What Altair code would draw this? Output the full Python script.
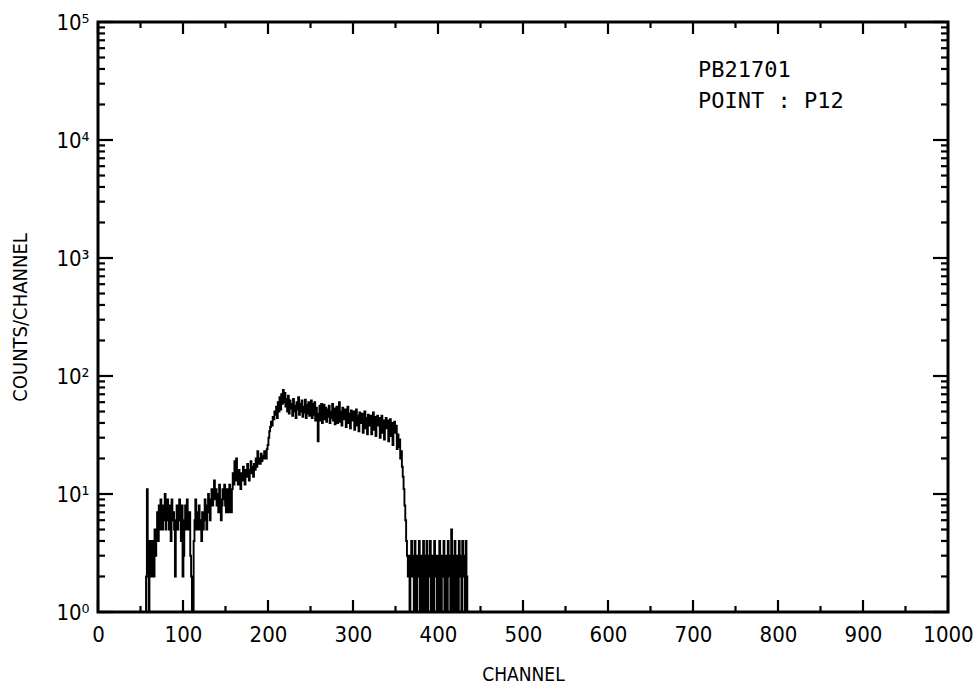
import altair as alt
import pandas as pd

# Pulse-height spectrum, counts per channel starting at channel 50
first_channel = 50
counts = [
    1, 1, 1, 1, 1, 1, 1, 2, 11, 4,
    1, 2, 4, 3, 2, 4, 2, 5, 3, 5,
    7, 4, 8, 5, 9, 6, 5, 8, 6, 10,
    5, 7, 9, 6, 5, 8, 4, 9, 6, 7,
    5, 2, 6, 8, 5, 7, 9, 6, 4, 8,
    2, 3, 6, 8, 5, 9, 6, 5, 7, 3,
    2, 1, 1, 4, 6, 9, 5, 7, 5, 8,
    5, 6, 4, 7, 5, 6, 9, 6, 5, 8,
    10, 7, 6, 9, 11, 8, 10, 13, 9, 11,
    8, 10, 7, 12, 9, 6, 8, 11, 9, 12,
    8, 7, 11, 9, 7, 12, 8, 7, 11, 15,
    12, 19, 13, 20, 14, 12, 16, 13, 11, 15,
    13, 17, 14, 12, 16, 14, 18, 15, 13, 16,
    19, 15, 17, 14, 18, 16, 20, 17, 23, 18,
    20, 18, 22, 19, 21, 20, 23, 21, 20, 24,
    26, 30, 34, 37, 41, 38, 45, 43, 50, 47,
    55, 44, 60, 50, 66, 52, 70, 58, 76, 60,
    72, 55, 64, 50, 68, 48, 62, 53, 58, 46,
    64, 50, 56, 44, 60, 52, 66, 47, 58, 50,
    62, 45, 55, 49, 63, 44, 57, 48, 60, 46,
    55, 62, 44, 58, 47, 60, 42, 54, 46, 28,
    48, 56, 42, 58, 40, 52, 57, 43, 54, 41,
    52, 45, 56, 40, 50, 44, 58, 42, 53, 39,
    49, 55, 40, 52, 60, 41, 50, 38, 54, 43,
    47, 52, 37, 49, 55, 40, 48, 36, 51, 42,
    45, 50, 35, 47, 52, 38, 46, 34, 49, 40,
    43, 48, 33, 45, 50, 36, 44, 32, 47, 38,
    41, 46, 32, 43, 49, 35, 45, 31, 42, 46,
    38, 44, 30, 41, 46, 33, 42, 29, 40, 44,
    36, 42, 28, 39, 43, 31, 40, 26, 37, 41,
    33, 38, 24, 32, 25, 29, 20, 23, 17, 14,
    11, 8, 6, 4, 3, 2, 3, 1, 2, 4,
    2, 3, 1, 4, 2, 1, 3, 2, 4, 1,
    3, 2, 1, 4, 3, 1, 2, 4, 1, 3,
    2, 4, 1, 3, 2, 1, 4, 2, 3, 1,
    3, 1, 4, 2, 1, 3, 2, 4, 1, 2,
    3, 1, 4, 2, 3, 1, 5, 2, 1, 3,
    4, 1, 3, 2, 1, 4, 2, 3, 1, 4,
    2, 3, 1, 4, 2, 1, 1, 1, 1, 1,
]
channels = list(range(first_channel, first_channel + len(counts)))

# Axis tick positions
x_major = [0, 100, 200, 300, 400, 500, 600, 700, 800, 900, 1000]
x_minor = [50, 150, 250, 350, 450, 550, 650, 750, 850, 950]
y_major = [1, 10, 100, 1000, 10000, 100000]
y_minor = [m * d for d in [1, 10, 100, 1000, 10000] for m in range(2, 10)]

sample_id = "PB21701"
point_label = "POINT : P12"

W, H = 850, 590
FONT = "Liberation Sans Narrow, DejaVu Sans Condensed, Liberation Sans"

xscale = alt.Scale(domain=[0, 1000], nice=False, zero=False)
yscale = alt.Scale(type="log", domain=[1, 100000], nice=False)

xaxis = alt.Axis(values=x_major, format="d", ticks=False, domain=False,
                 grid=False, labelFlush=False, labelFont=FONT,
                 labelFontSize=22, labelColor="black", labelPadding=12,
                 title="CHANNEL", titleFont=FONT, titleFontSize=19,
                 titleFontWeight="normal", titleColor="black", titlePadding=20)
yaxis = alt.Axis(values=y_major, ticks=False, domain=False, grid=False,
                 labelFlush=False, labelOverlap=False,
                 labelExpr="'10' + ['⁰','¹','²','³','⁴','⁵'][round(log(datum.value)/LN10)]",
                 labelFont=FONT, labelFontSize=22, labelColor="black",
                 labelPadding=9,
                 title="COUNTS/CHANNEL", titleFont=FONT, titleFontSize=20,
                 titleFontWeight="normal", titleColor="black", titlePadding=25)

spectrum = pd.DataFrame({"channel": channels, "counts": counts})

line = alt.Chart(spectrum).mark_line(
    interpolate="step", color="black", strokeWidth=1.9
).encode(
    x=alt.X("channel:Q", scale=xscale, axis=xaxis),
    y=alt.Y("counts:Q", scale=yscale, axis=yaxis),
)

def xticks(values, length):
    df = pd.DataFrame({"v": values})
    base = alt.Chart(df).mark_rule(color="black", strokeWidth=2.2)
    enc = alt.X("v:Q", scale=xscale, axis=xaxis)
    bottom = base.encode(x=enc, y=alt.value(H), y2=alt.value(H - length))
    top = base.encode(x=enc, y=alt.value(0), y2=alt.value(length))
    return bottom + top

def yticks(values, length):
    df = pd.DataFrame({"v": values})
    base = alt.Chart(df).mark_rule(color="black", strokeWidth=2.2)
    enc = alt.Y("v:Q", scale=yscale, axis=yaxis)
    left = base.encode(y=enc, x=alt.value(0), x2=alt.value(length))
    right = base.encode(y=enc, x=alt.value(W), x2=alt.value(W - length))
    return left + right

def note(text, baseline_y):
    return alt.Chart(pd.DataFrame({"t": [text]})).mark_text(
        align="left", baseline="alphabetic", font="DejaVu Sans Mono",
        fontSize=22, color="black"
    ).encode(text="t:N", x=alt.value(600), y=alt.value(baseline_y))

chart = alt.layer(
    line,
    xticks(x_major, 12), xticks(x_minor, 6),
    yticks(y_major, 15), yticks(y_minor, 7),
    note(sample_id, 55), note(point_label, 86),
).properties(
    width=W, height=H, autosize="none", background="white",
    padding={"left": 98, "top": 22, "right": 31, "bottom": 79},
).configure_view(stroke="black", strokeWidth=3)

chart.save("out.html", embed_options={"renderer": "svg", "actions": False})
